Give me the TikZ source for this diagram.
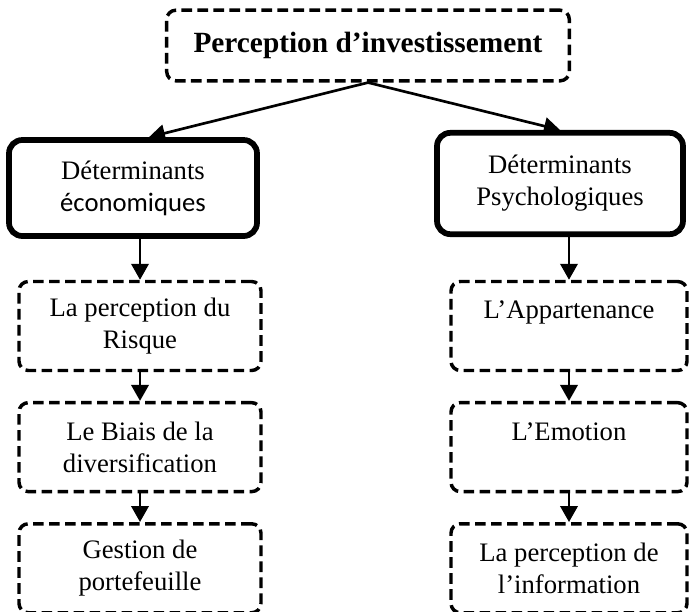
\documentclass[tikz,border=0pt]{standalone}
\usepackage{fontspec}
\setmainfont{Liberation Serif}
\newfontfamily\calibri{Carlito}
\usetikzlibrary{arrows.meta,positioning}

\begin{document}
\begin{tikzpicture}[x=0.75pt,y=-0.75pt,>={Triangle[length=12pt,width=13pt]},node distance=21.5pt,
 dbox/.style={draw,line width=2.6pt,dash pattern=on 8pt off 4pt,rounded corners=7pt,align=center,font=\fontsize{20}{24}\selectfont,minimum width=180pt,minimum height=66.75pt,inner sep=2pt},
 sbox/.style={draw,line width=4.3pt,rounded corners=10pt,align=center,font=\fontsize{20}{24}\selectfont,minimum width=186pt,minimum height=72pt},
 arr/.style={->,line width=2pt}]
 \useasboundingbox (0,0) rectangle (689,611);
 \node[dbox,minimum width=302pt,minimum height=53pt,font=\bfseries\fontsize{22}{26}\selectfont] (invest) at (368,45.5) {Perception d’investissement};
 \node[sbox] (eco) at (133,188) {Déterminants\\{\calibri économiques}};
 \node[sbox,minimum width=184.5pt,minimum height=76pt] (psy) at (560,183.5) {Déterminants\\Psychologiques};
 % left column
 \node[dbox,minimum width=181.5pt] (risque) at (140,326) {La perception du\\Risque};
 \node[dbox,minimum width=181.5pt,below=of risque] (biais) {Le Biais de la\\diversification};
 \node[dbox,minimum width=181.5pt,below=of biais] (gestion) {Gestion de\\portefeuille};
 % right column
 \node[dbox,minimum width=177pt] (appart) at (569,326) {L’Appartenance\\ \mbox{}};
 \node[dbox,minimum width=177pt,below=of appart] (emotion) {L’Emotion\\ \mbox{}};
 \node[dbox,minimum width=177pt,below=of emotion] (info) {La perception de\\l’information};
 \draw[arr] (invest.south)--([xshift=12pt]eco.north);\draw[arr] (invest.south)--(psy.north);
 \draw[arr] (eco.south -| risque.north)--(risque.north);\draw[arr] (psy.south -| appart.north)--(appart.north);
 \draw[arr] (risque)--(biais);\draw[arr] (biais)--(gestion);
 \draw[arr] (appart)--(emotion);\draw[arr] (emotion)--(info);
\end{tikzpicture}
\end{document}
